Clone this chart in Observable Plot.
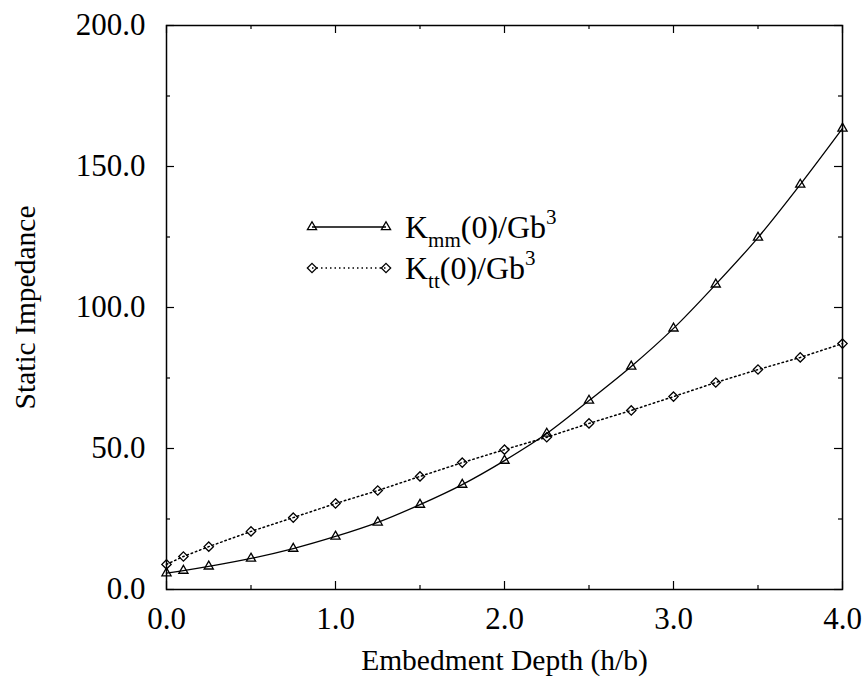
<!DOCTYPE html>
<html>
<head>
<meta charset="utf-8">
<script src="https://cdn.jsdelivr.net/npm/d3@7"></script>
<script src="https://cdn.jsdelivr.net/npm/@observablehq/plot@0.6"></script>
<style>
  html, body { margin: 0; padding: 0; background: #fff; }
  #wrap { position: relative; width: 866px; height: 687px; font-family: "Liberation Serif", "Times New Roman", serif; }
  .leg { position: absolute; display: flex; align-items: center; height: 30px; font-size: 32px; line-height: 30px; color: #000; white-space: nowrap; }
  .leg svg { display: block; margin-right: 13px; }
  .leg sub { font-size: 21px; vertical-align: -9px; line-height: 0; }
  .leg sup { font-size: 21px; vertical-align: 14px; line-height: 0; }
</style>
</head>
<body>
<div id="wrap"></div>
<script>
// ---- data ----
const depth = [0, 0.1, 0.25, 0.5, 0.75, 1.0, 1.25, 1.5, 1.75, 2.0, 2.25, 2.5, 2.75, 3.0, 3.25, 3.5, 3.75, 4.0];
const kmm   = [5.8, 6.7, 8.2, 11.0, 14.5, 18.8, 23.8, 30.1, 37.2, 45.7, 55.3, 67.0, 79.1, 92.6, 108.2, 124.8, 143.6, 163.5];
const ktt   = [8.9, 11.7, 15.2, 20.6, 25.5, 30.5, 35.1, 40.1, 45.0, 49.6, 54.0, 58.9, 63.5, 68.4, 73.4, 78.0, 82.3, 87.2];
const xTicks = [0, 1, 2, 3, 4];
const xMinor = [0.5, 1.5, 2.5, 3.5];
const yTicks = [0, 50, 100, 150, 200];
const yMinor = [25, 75, 125, 175];
const xLabel = "Embedment Depth (h/b)";
const yLabel = "Static Impedance";

const W = 866, H = 687;
const mL = 166, mR = 24, mT = 25, mB = 98;
const pw = W - mL - mR, ph = H - mT - mB;
const font = '"Liberation Serif", "Times New Roman", serif';

const dataMm = depth.map((d, i) => ({x: d, y: kmm[i]}));
const dataTt = depth.map((d, i) => ({x: d, y: ktt[i]}));
const fmt = d3.format(".1f");

const MAJ = 8, MIN = 4;
const chart = Plot.plot({
  width: W, height: H,
  marginLeft: mL, marginRight: mR, marginTop: mT, marginBottom: mB,
  style: {fontFamily: font, background: "#fff", color: "#000"},
  x: {domain: [0, 4]},
  y: {domain: [0, 200]},
  marks: [
    // tick labels
    Plot.axisX(xTicks, {anchor: "bottom", tickSize: 0, tickPadding: 17, tickFormat: fmt, fontSize: 31, label: null}),
    Plot.axisY(yTicks, {anchor: "left", tickSize: 0, tickPadding: 21, tickFormat: fmt, fontSize: 31, label: null}),
    // inward ticks (bottom/top)
    Plot.tickX(xTicks, {x: d => d, insetTop: ph - MAJ, stroke: "#000", strokeWidth: 1.2}),
    Plot.tickX(xMinor, {x: d => d, insetTop: ph - MIN, stroke: "#000", strokeWidth: 1.2}),
    Plot.tickX(xTicks, {x: d => d, insetBottom: ph - MAJ, stroke: "#000", strokeWidth: 1.2}),
    Plot.tickX(xMinor, {x: d => d, insetBottom: ph - MIN, stroke: "#000", strokeWidth: 1.2}),
    // inward ticks (left/right)
    Plot.tickY(yTicks, {y: d => d, insetRight: pw - MAJ, stroke: "#000", strokeWidth: 1.2}),
    Plot.tickY(yMinor, {y: d => d, insetRight: pw - MIN, stroke: "#000", strokeWidth: 1.2}),
    Plot.tickY(yTicks, {y: d => d, insetLeft: pw - MAJ, stroke: "#000", strokeWidth: 1.2}),
    Plot.tickY(yMinor, {y: d => d, insetLeft: pw - MIN, stroke: "#000", strokeWidth: 1.2}),
    Plot.frame({stroke: "#000", strokeWidth: 1.5}),
    // series
    Plot.line(dataMm, {x: "x", y: "y", curve: "catmull-rom", stroke: "#000", strokeWidth: 1.3}),
    Plot.line(dataTt, {x: "x", y: "y", curve: "linear", stroke: "#000", strokeWidth: 1.5, strokeDasharray: "1.5,3"}),
    Plot.dot(dataMm, {x: "x", y: "y", symbol: "triangle", r: 3.4, stroke: "#000", strokeWidth: 1.3, fill: "none"}),
    Plot.dot(dataTt, {x: "x", y: "y", symbol: "diamond2", r: 4.2, stroke: "#000", strokeWidth: 1.3, fill: "none"}),
    // axis titles
    Plot.text([xLabel], {frameAnchor: "bottom", dy: 71, fontSize: 29.5, fill: "#000", lineAnchor: "middle", textAnchor: "middle"}),
    Plot.text([yLabel], {frameAnchor: "left", dx: -141, rotate: -90, fontSize: 29.5, fill: "#000", lineAnchor: "middle", textAnchor: "middle"})
  ]
});

const wrap = document.getElementById("wrap");
wrap.appendChild(chart);

// ---- legend ----
const legendItems = [
  {sym: d3.symbolTriangle, r: 3.4, dash: null, sub: "mm", lineY: 227},
  {sym: d3.symbolDiamond2, r: 4.2, dash: "1.5,3", sub: "tt", lineY: 268}
];
legendItems.forEach(item => {
  const row = document.createElement("div");
  row.className = "leg";
  row.style.left = "304px";
  row.style.top = (item.lineY - 15) + "px";
  const svg = d3.create("svg").attr("width", 88).attr("height", 30);
  svg.append("line").attr("x1", 8).attr("x2", 82).attr("y1", 15).attr("y2", 15)
    .attr("stroke", "#000").attr("stroke-width", item.dash ? 1.5 : 1.3)
    .attr("stroke-dasharray", item.dash);
  const path = d3.symbol(item.sym, item.r * item.r * Math.PI)();
  [8, 82].forEach(cx => {
    svg.append("path").attr("d", path).attr("transform", `translate(${cx},15)`)
      .attr("fill", "none").attr("stroke", "#000").attr("stroke-width", 1.3);
  });
  row.appendChild(svg.node());
  const span = document.createElement("span");
  span.innerHTML = `K<sub>${item.sub}</sub>(0)/Gb<sup>3</sup>`;
  row.appendChild(span);
  wrap.appendChild(row);
});
</script>
</body>
</html>
